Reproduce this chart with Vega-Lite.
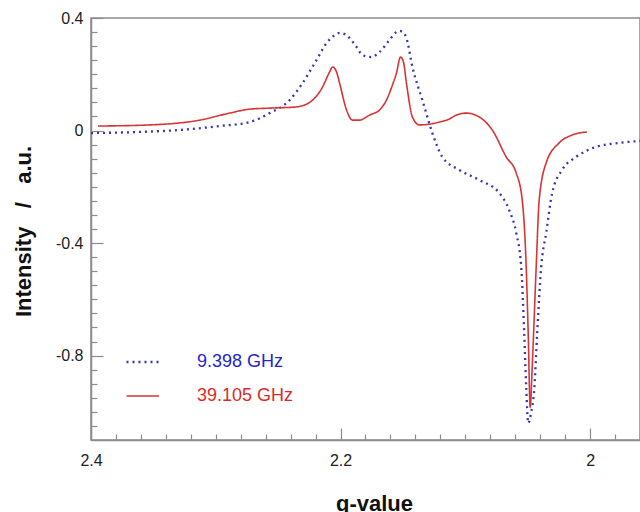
{
  "$schema": "https://vega.github.io/schema/vega-lite/v6.json",
  "width": 549,
  "height": 422,
  "autosize": {"type": "none"},
  "padding": {"left": 91, "top": 18, "right": 0, "bottom": 72},
  "config": {
    "view": {"stroke": "#8c8c8c", "strokeWidth": 1.5},
    "font": "Liberation Sans"
  },
  "data": {
    "values": [
      {"series": "9.398 GHz", "g": 2.4, "intensity": -0.009},
      {"series": "9.398 GHz", "g": 2.3608, "intensity": -0.005},
      {"series": "9.398 GHz", "g": 2.3288, "intensity": 0.002},
      {"series": "9.398 GHz", "g": 2.2968, "intensity": 0.016},
      {"series": "9.398 GHz", "g": 2.2728, "intensity": 0.03},
      {"series": "9.398 GHz", "g": 2.2568, "intensity": 0.062},
      {"series": "9.398 GHz", "g": 2.2408, "intensity": 0.108},
      {"series": "9.398 GHz", "g": 2.2304, "intensity": 0.169},
      {"series": "9.398 GHz", "g": 2.2192, "intensity": 0.251},
      {"series": "9.398 GHz", "g": 2.2112, "intensity": 0.311},
      {"series": "9.398 GHz", "g": 2.2056, "intensity": 0.336},
      {"series": "9.398 GHz", "g": 2.2008, "intensity": 0.347},
      {"series": "9.398 GHz", "g": 2.1968, "intensity": 0.343},
      {"series": "9.398 GHz", "g": 2.1928, "intensity": 0.329},
      {"series": "9.398 GHz", "g": 2.1872, "intensity": 0.297},
      {"series": "9.398 GHz", "g": 2.1824, "intensity": 0.268},
      {"series": "9.398 GHz", "g": 2.1752, "intensity": 0.261},
      {"series": "9.398 GHz", "g": 2.1688, "intensity": 0.279},
      {"series": "9.398 GHz", "g": 2.1608, "intensity": 0.322},
      {"series": "9.398 GHz", "g": 2.1552, "intensity": 0.35},
      {"series": "9.398 GHz", "g": 2.1528, "intensity": 0.354},
      {"series": "9.398 GHz", "g": 2.1496, "intensity": 0.347},
      {"series": "9.398 GHz", "g": 2.1472, "intensity": 0.329},
      {"series": "9.398 GHz", "g": 2.1424, "intensity": 0.226},
      {"series": "9.398 GHz", "g": 2.1344, "intensity": 0.108},
      {"series": "9.398 GHz", "g": 2.1264, "intensity": -0.009},
      {"series": "9.398 GHz", "g": 2.1184, "intensity": -0.094},
      {"series": "9.398 GHz", "g": 2.1048, "intensity": -0.14},
      {"series": "9.398 GHz", "g": 2.0888, "intensity": -0.176},
      {"series": "9.398 GHz", "g": 2.0728, "intensity": -0.222},
      {"series": "9.398 GHz", "g": 2.0648, "intensity": -0.283},
      {"series": "9.398 GHz", "g": 2.0592, "intensity": -0.364},
      {"series": "9.398 GHz", "g": 2.0552, "intensity": -0.485},
      {"series": "9.398 GHz", "g": 2.0528, "intensity": -0.72},
      {"series": "9.398 GHz", "g": 2.0512, "intensity": -0.912},
      {"series": "9.398 GHz", "g": 2.0496, "intensity": -1.04},
      {"series": "9.398 GHz", "g": 2.0472, "intensity": -1.001},
      {"series": "9.398 GHz", "g": 2.0448, "intensity": -0.923},
      {"series": "9.398 GHz", "g": 2.0424, "intensity": -0.72},
      {"series": "9.398 GHz", "g": 2.0392, "intensity": -0.485},
      {"series": "9.398 GHz", "g": 2.0352, "intensity": -0.364},
      {"series": "9.398 GHz", "g": 2.0304, "intensity": -0.222},
      {"series": "9.398 GHz", "g": 2.0224, "intensity": -0.14},
      {"series": "9.398 GHz", "g": 2.0112, "intensity": -0.094},
      {"series": "9.398 GHz", "g": 1.9952, "intensity": -0.058},
      {"series": "9.398 GHz", "g": 1.9768, "intensity": -0.044},
      {"series": "9.398 GHz", "g": 1.96, "intensity": -0.037},
      {"series": "39.105 GHz", "g": 2.3944, "intensity": 0.016},
      {"series": "39.105 GHz", "g": 2.3528, "intensity": 0.02},
      {"series": "39.105 GHz", "g": 2.3128, "intensity": 0.037},
      {"series": "39.105 GHz", "g": 2.2888, "intensity": 0.062},
      {"series": "39.105 GHz", "g": 2.2728, "intensity": 0.076},
      {"series": "39.105 GHz", "g": 2.2544, "intensity": 0.08},
      {"series": "39.105 GHz", "g": 2.2352, "intensity": 0.084},
      {"series": "39.105 GHz", "g": 2.2224, "intensity": 0.108},
      {"series": "39.105 GHz", "g": 2.2144, "intensity": 0.155},
      {"series": "39.105 GHz", "g": 2.2088, "intensity": 0.208},
      {"series": "39.105 GHz", "g": 2.2064, "intensity": 0.226},
      {"series": "39.105 GHz", "g": 2.2032, "intensity": 0.208},
      {"series": "39.105 GHz", "g": 2.2008, "intensity": 0.169},
      {"series": "39.105 GHz", "g": 2.1952, "intensity": 0.073},
      {"series": "39.105 GHz", "g": 2.1904, "intensity": 0.037},
      {"series": "39.105 GHz", "g": 2.1848, "intensity": 0.037},
      {"series": "39.105 GHz", "g": 2.1768, "intensity": 0.055},
      {"series": "39.105 GHz", "g": 2.1688, "intensity": 0.073},
      {"series": "39.105 GHz", "g": 2.1632, "intensity": 0.108},
      {"series": "39.105 GHz", "g": 2.1584, "intensity": 0.162},
      {"series": "39.105 GHz", "g": 2.1552, "intensity": 0.204},
      {"series": "39.105 GHz", "g": 2.152, "intensity": 0.261},
      {"series": "39.105 GHz", "g": 2.1496, "intensity": 0.244},
      {"series": "39.105 GHz", "g": 2.1472, "intensity": 0.169},
      {"series": "39.105 GHz", "g": 2.1424, "intensity": 0.048},
      {"series": "39.105 GHz", "g": 2.1368, "intensity": 0.02},
      {"series": "39.105 GHz", "g": 2.1208, "intensity": 0.03},
      {"series": "39.105 GHz", "g": 2.1128, "intensity": 0.041},
      {"series": "39.105 GHz", "g": 2.1072, "intensity": 0.055},
      {"series": "39.105 GHz", "g": 2.0992, "intensity": 0.062},
      {"series": "39.105 GHz", "g": 2.0888, "intensity": 0.048},
      {"series": "39.105 GHz", "g": 2.0784, "intensity": 0.002},
      {"series": "39.105 GHz", "g": 2.0672, "intensity": -0.094},
      {"series": "39.105 GHz", "g": 2.0592, "intensity": -0.151},
      {"series": "39.105 GHz", "g": 2.0544, "intensity": -0.247},
      {"series": "39.105 GHz", "g": 2.0512, "intensity": -0.485},
      {"series": "39.105 GHz", "g": 2.0496, "intensity": -0.72},
      {"series": "39.105 GHz", "g": 2.048, "intensity": -0.983},
      {"series": "39.105 GHz", "g": 2.0464, "intensity": -0.841},
      {"series": "39.105 GHz", "g": 2.0432, "intensity": -0.485},
      {"series": "39.105 GHz", "g": 2.0408, "intensity": -0.247},
      {"series": "39.105 GHz", "g": 2.0352, "intensity": -0.115},
      {"series": "39.105 GHz", "g": 2.0248, "intensity": -0.044},
      {"series": "39.105 GHz", "g": 2.0144, "intensity": -0.016},
      {"series": "39.105 GHz", "g": 2.0024, "intensity": -0.005}
    ]
  },
  "layer": [
    {
      "mark": {"type": "line", "clip": true, "interpolate": "monotone"},
      "encoding": {
        "x": {
          "field": "g", "type": "quantitative",
          "scale": {"domain": [1.96, 2.4], "reverse": true, "nice": false, "zero": false},
          "axis": {
            "orient": "bottom",
            "values": [2.4, 2.2, 2.0],
            "labelExpr": "'' + datum.value",
            "grid": false, "ticks": false,
            "domainColor": "#8c8c8c", "domainWidth": 1.5,
            "labelFontSize": 16, "labelColor": "#222222", "labelPadding": 12,
            "labelFlush": false,
            "title": "g-value",
            "titleFontSize": 22, "titleFontWeight": "bold", "titleColor": "#111111",
            "titleX": 283, "titleY": 70, "titleBaseline": "alphabetic", "titleAlign": "center"
          }
        },
        "y": {
          "field": "intensity", "type": "quantitative",
          "scale": {"domain": [-1.1, 0.4], "nice": false, "zero": false},
          "axis": {
            "orient": "left",
            "values": [0.4, 0, -0.4, -0.8],
            "labelExpr": "'' + datum.value",
            "grid": false, "ticks": false,
            "domainColor": "#8c8c8c", "domainWidth": 1.5,
            "labelFontSize": 16, "labelColor": "#222222", "labelPadding": 8,
            "labelFlush": false,
            "title": "Intensity\u00a0\u00a0\u00a0/\u00a0\u00a0\u00a0a.u.",
            "titleFontSize": 22, "titleFontWeight": "bold", "titleColor": "#111111",
            "titleX": -68, "titleY": 213, "titleAngle": 270,
            "titleBaseline": "middle", "titleAlign": "center"
          }
        },
        "color": {
          "field": "series", "type": "nominal",
          "scale": {"domain": ["9.398 GHz", "39.105 GHz"], "range": ["#3535b5", "#d83434"]},
          "legend": {
            "orient": "none", "legendX": 29, "legendY": 335,
            "title": null, "padding": 0, "rowPadding": 16,
            "symbolType": "M-0.5,0H6", "symbolSize": 100, "symbolStrokeWidth": 1.8,
            "labelOffset": 59, "labelFontSize": 18, "labelFont": "Liberation Sans",
            "encode": {
              "labels": {
                "update": {
                  "fill": {"signal": "datum.label == '9.398 GHz' ? '#2626c8' : '#e02828'"}
                }
              }
            }
          }
        },
        "strokeDash": {
          "field": "series", "type": "nominal",
          "scale": {"domain": ["9.398 GHz", "39.105 GHz"], "range": [[2, 4], [1, 0]]},
          "legend": {
            "orient": "none", "legendX": 29, "legendY": 335,
            "title": null, "padding": 0, "rowPadding": 16,
            "symbolType": "M-0.5,0H6", "symbolSize": 100, "symbolStrokeWidth": 1.8,
            "labelOffset": 59, "labelFontSize": 18, "labelFont": "Liberation Sans",
            "encode": {
              "labels": {
                "update": {
                  "fill": {"signal": "datum.label == '9.398 GHz' ? '#2626c8' : '#e02828'"}
                }
              }
            }
          }
        },
        "strokeWidth": {
          "field": "series", "type": "nominal",
          "scale": {"domain": ["9.398 GHz", "39.105 GHz"], "range": [2.3, 1.6]},
          "legend": null
        }
      }
    },
    {
      "mark": {"type": "line", "strokeOpacity": 0},
      "encoding": {
        "x": {
          "field": "g", "type": "quantitative",
          "axis": {
            "orient": "top", "offset": -422,
            "values": [2.4, 2.2, 2.0],
            "labels": false, "domain": false, "grid": false, "title": null,
            "tickColor": "#8c8c8c", "tickWidth": 1.2, "tickSize": 12
          }
        },
        "y": {
          "field": "intensity", "type": "quantitative",
          "axis": {
            "orient": "right", "offset": -549,
            "values": [0.4, 0, -0.4, -0.8],
            "labels": false, "domain": false, "grid": false, "title": null,
            "tickColor": "#8c8c8c", "tickWidth": 1.2, "tickSize": 12
          }
        },
        "detail": {"field": "series"}
      }
    },
    {
      "mark": {"type": "line", "strokeOpacity": 0},
      "encoding": {
        "x": {
          "field": "g", "type": "quantitative",
          "axis": {
            "orient": "top", "offset": -422,
            "values": [2.38, 2.36, 2.34, 2.32, 2.3, 2.28, 2.26, 2.24, 2.22, 2.18, 2.16, 2.14, 2.12, 2.1, 2.08, 2.06, 2.04, 2.02, 1.98, 1.96],
            "labels": false, "domain": false, "grid": false, "title": null,
            "tickColor": "#8c8c8c", "tickWidth": 1.2, "tickSize": 6
          }
        },
        "y": {
          "field": "intensity", "type": "quantitative",
          "axis": {
            "orient": "right", "offset": -549,
            "values": [0.35, 0.3, 0.25, 0.2, 0.15, 0.1, 0.05, -0.05, -0.1, -0.15, -0.2, -0.25, -0.3, -0.35, -0.45, -0.5, -0.55, -0.6, -0.65, -0.7, -0.75, -0.85, -0.9, -0.95, -1.0, -1.05],
            "labels": false, "domain": false, "grid": false, "title": null,
            "tickColor": "#8c8c8c", "tickWidth": 1.2, "tickSize": 6
          }
        },
        "detail": {"field": "series"}
      }
    }
  ],
  "resolve": {"axis": {"x": "independent", "y": "independent"}}
}
